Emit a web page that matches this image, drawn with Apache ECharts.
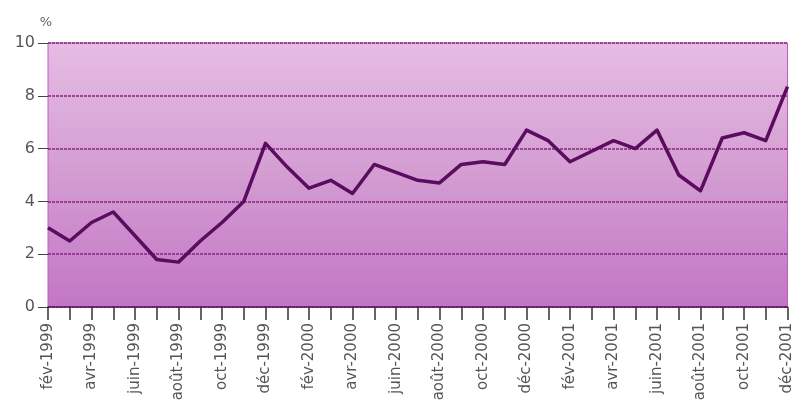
<!DOCTYPE html>
<html>
<head>
<meta charset="utf-8">
<script src="https://cdn.jsdelivr.net/npm/echarts@6/dist/echarts.min.js"></script>
<style>
  html, body { margin: 0; padding: 0; background: #ffffff; }
  #chart { width: 795px; height: 407px; }
</style>
</head>
<body>
<div id="chart"></div>
<script>
// Monthly rate, February 1999 to December 2001 (%)
const months = ['fév', 'mars', 'avr', 'mai', 'juin', 'juil', 'août', 'sept', 'oct', 'nov', 'déc', 'janv'];
const categories = [];
for (let i = 0; i < 35; i++) {
  const m = months[i % 12];
  const y = 1999 + Math.floor((i + 1) / 12);
  categories.push(m + '-' + y);
}

const values = [
  3.0, 2.5, 3.2, 3.6, 2.7, 1.8, 1.7, 2.5, 3.2, 4.0,
  6.2, 5.3, 4.5, 4.8, 4.3, 5.4, 5.1, 4.8, 4.7, 5.4,
  5.5, 5.4, 6.7, 6.3, 5.5, 5.9, 6.3, 6.0, 6.7, 5.0,
  4.4, 6.4, 6.6, 6.3, 8.35
];

const yTicks = { min: 0, max: 10, interval: 2 };

const labelFont = '"DejaVu Sans", "Liberation Sans", sans-serif';

const chart = echarts.init(document.getElementById('chart'), null, { renderer: 'canvas' });

chart.setOption({
  animation: false,
  backgroundColor: '#ffffff',
  grid: {
    left: 48, right: 5, top: 43, bottom: 100,
    show: true,
    borderColor: '#c25cc2',
    borderWidth: 1,
    backgroundColor: {
      type: 'linear', x: 0, y: 0, x2: 0, y2: 1,
      colorStops: [
        { offset: 0, color: '#e6bce4' },
        { offset: 0.45, color: '#d5a0d3' },
        { offset: 1, color: '#c276c4' }
      ]
    }
  },
  xAxis: {
    type: 'category',
    data: categories,
    boundaryGap: false,
    axisLine: { lineStyle: { color: '#5a1a5a', width: 1.5 } },
    axisTick: { show: true, interval: 0, length: 13, lineStyle: { color: '#333333', width: 1.5 } },
    axisLabel: {
      interval: 1,
      rotate: 90,
      margin: 16,
      fontSize: 15,
      color: '#555555',
      fontFamily: labelFont
    },
    splitLine: { show: false }
  },
  yAxis: {
    type: 'value',
    min: yTicks.min,
    max: yTicks.max,
    interval: yTicks.interval,
    name: '%',
    nameLocation: 'end',
    nameGap: 14,
    nameTextStyle: { color: '#666666', fontSize: 13, fontFamily: labelFont, align: 'right', padding: [0, -4, 0, 0] },
    axisLine: { show: false },
    axisTick: { show: true, length: 10, lineStyle: { color: '#444444', width: 1 } },
    axisLabel: { fontSize: 16, color: '#555555', margin: 13, fontFamily: labelFont },
    splitLine: { show: true, lineStyle: { color: '#862486', width: 1.5, type: [3, 1] } }
  },
  series: [{
    type: 'line',
    data: values,
    showSymbol: false,
    symbol: 'none',
    lineStyle: { color: '#5a0c5e', width: 3.5, join: 'round' },
    z: 5
  }]
});
</script>
</body>
</html>
